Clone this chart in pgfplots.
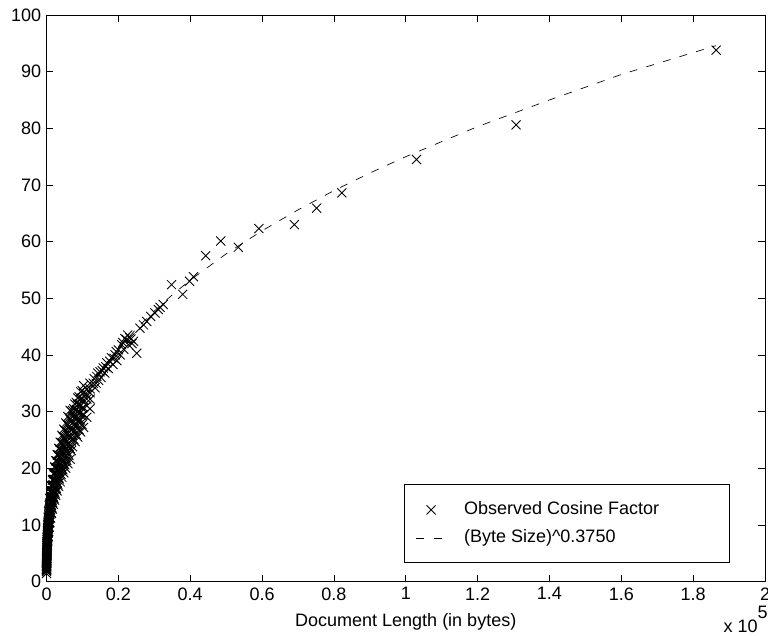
\documentclass[border=0pt]{standalone}
\usepackage{fontspec}
\setmainfont{Liberation Sans}
\usepackage{pgfplots}
\usepackage{pgfplotstable}
\pgfplotsset{compat=1.18}

% observed cosine factor, x in units of 1e5 bytes
\pgfplotstableread{
x y
0.00001 1.4
0.0000635 1.74
0.0000635 1.88
0.0000635 2
0.0000635 2.12
0.0000635 2.24
0.000115 2.1
0.000115 2.25
0.000115 2.4
0.000115 2.6
0.000115 2.7
0.000187 2.6
0.000187 2.8
0.000187 3
0.000187 3.2
0.000187 3.4
0.000282 2.9
0.000282 3.2
0.000282 3.4
0.000282 3.6
0.000282 3.8
0.000403 3.2
0.000403 3.5
0.000403 3.8
0.000403 4
0.000403 4.2
0.000403 4.5
0.000552 3.8
0.000552 4.1
0.000552 4.4
0.000552 4.6
0.000552 4.9
0.00073 4.0
0.00073 4.4
0.00073 4.7
0.00073 5
0.00073 5.3
0.00073 5.6
0.000943 4.6
0.000943 5.0
0.000943 5.3
0.000943 5.7
0.000943 6.0
0.00119 4.8
0.00119 5.2
0.00119 5.6
0.00119 6
0.00119 6.4
0.00119 6.7
0.00147 5.5
0.00147 5.9
0.00147 6.3
0.00147 6.7
0.00147 7.1
0.00179 5.6
0.00179 6.1
0.00179 6.6
0.00179 7
0.00179 7.4
0.00179 7.8
0.00216 6.3
0.00216 6.8
0.00216 7.3
0.00216 7.7
0.00216 8.2
0.00256 6.4
0.00256 7.0
0.00256 7.5
0.00256 8
0.00256 8.5
0.00256 9.0
0.00301 7.1
0.00301 7.7
0.00301 8.2
0.00301 8.8
0.00301 9.3
0.0035 7.2
0.0035 7.8
0.0035 8.5
0.0035 9
0.0035 9.5
0.0035 10.1
0.00405 8.0
0.00405 8.6
0.00405 9.2
0.00405 9.8
0.00405 10.4
0.00464 8.0
0.00464 8.7
0.00464 9.4
0.00464 10
0.00464 10.6
0.00464 11.2
0.00529 8.8
0.00529 9.5
0.00529 10.2
0.00529 10.8
0.00529 11.4
0.0060 8.8
0.0060 9.6
0.0060 10.3
0.0060 11
0.0060 11.7
0.0060 12.3
0.00674 9.7
0.00674 10.4
0.00674 11.2
0.00674 11.8
0.00674 12.5
0.00755 9.6
0.00755 10.4
0.00755 11.3
0.00755 12
0.00755 12.7
0.00755 13.4
0.00843 10.5
0.00843 11.3
0.00843 12.1
0.00843 12.9
0.00843 13.6
0.0093 10.4
0.0093 11.3
0.0093 12.2
0.0093 13
0.0093 13.8
0.0093 14.6
0.01035 11.3
0.01035 12.2
0.01035 13.1
0.01035 13.9
0.01035 14.7
0.0114 11.2
0.0114 12.2
0.0114 13.2
0.0114 14
0.0114 14.8
0.0114 15.7
0.0125 12.2
0.0125 13.1
0.0125 14.1
0.0125 14.9
0.0125 15.8
0.0137 12.0
0.0137 13.1
0.0137 14.1
0.0137 15
0.0137 15.9
0.0137 16.8
0.0150 13.0
0.0150 14.0
0.0150 15.0
0.0150 16.0
0.0150 16.9
0.01625 12.8
0.01625 13.9
0.01625 15.0
0.01625 16
0.01625 17.0
0.01625 17.9
0.0177 13.9
0.0177 14.9
0.0177 16.0
0.0177 17.0
0.0177 18.0
0.0191 13.6
0.0191 14.8
0.0191 16.0
0.0191 17
0.0191 18.0
0.0191 19.0
0.0207 14.7
0.0207 15.8
0.0207 17.0
0.0207 18.0
0.0207 19.1
0.0223 14.4
0.0223 15.7
0.0223 16.9
0.0223 18
0.0223 19.1
0.0223 20.2
0.0240 15.5
0.0240 16.7
0.0240 17.9
0.0240 19.1
0.0240 20.2
0.0257 15.2
0.0257 16.5
0.0257 17.9
0.0257 19
0.0257 20.1
0.0257 21.3
0.0276 16.4
0.0276 17.6
0.0276 18.9
0.0276 20.1
0.0276 21.3
0.0295 16.0
0.0295 17.4
0.0295 18.8
0.0295 20
0.0295 21.2
0.0295 22.4
0.0315 17.2
0.0315 18.5
0.0315 19.9
0.0315 21.1
0.0315 22.3
0.0336 16.8
0.0336 18.3
0.0336 19.7
0.0336 21
0.0336 22.3
0.0336 23.5
0.0358 18.1
0.0358 19.4
0.0358 20.9
0.0358 22.1
0.0358 23.4
0.0380 17.6
0.0380 19.1
0.0380 20.7
0.0380 22
0.0380 23.3
0.0380 24.6
0.0405 18.9
0.0405 20.3
0.0405 21.8
0.0405 23.2
0.0405 24.5
0.0428 18.4
0.0428 20.0
0.0428 21.6
0.0428 23
0.0428 24.4
0.0428 25.8
0.0454 19.7
0.0454 21.2
0.0454 22.8
0.0454 24.2
0.0454 25.6
0.0479 19.2
0.0479 20.9
0.0479 22.6
0.0479 24
0.0479 25.4
0.0479 26.9
0.0508 20.6
0.0508 22.1
0.0508 23.8
0.0508 25.2
0.0508 26.7
0.0535 20.0
0.0535 21.8
0.0535 23.5
0.0535 25
0.0535 26.5
0.0535 28.0
0.0565 21.4
0.0565 23.0
0.0565 24.7
0.0565 26.3
0.0565 27.8
0.0594 20.8
0.0594 22.6
0.0594 24.4
0.0594 26
0.0594 27.6
0.0594 29.1
0.0625 22.3
0.0625 23.9
0.0625 25.7
0.0625 27.3
0.0625 28.9
0.0656 21.6
0.0656 23.5
0.0656 25.4
0.0656 27
0.0656 28.6
0.0656 30.2
0.0690 23.1
0.0690 24.8
0.0690 26.7
0.0690 28.3
0.0690 30.0
0.0723 23.8
0.0723 25.8
0.0723 26.9
0.0723 28
0.0723 29.1
0.0723 30.2
0.0758 25.1
0.0758 26.5
0.0758 27.6
0.0758 29.4
0.0758 30.5
0.0794 24.7
0.0794 26.7
0.0794 27.8
0.0794 29
0.0794 30.2
0.0794 31.3
0.0830 26.0
0.0830 27.4
0.0830 28.6
0.0830 30.4
0.0830 31.6
0.0870 25.5
0.0870 27.6
0.0870 28.8
0.0870 30
0.0870 31.2
0.0870 32.4
0.0909 26.8
0.0909 28.4
0.0909 29.6
0.0909 31.4
0.0909 32.6
0.0949 26.4
0.0949 28.5
0.0949 29.8
0.0949 31
0.0949 32.2
0.0949 33.5
0.0990 27.7
0.0990 29.3
0.0990 30.6
0.0990 32.4
0.0990 33.7
0.1032 27.2
0.1032 29.4
0.1032 30.7
0.1032 32
0.1032 33.3
0.1032 34.6
0.1120 29.0
0.1120 31.0
0.1120 32.2
0.1120 33
0.1120 34.0
0.1212 30.5
0.1212 32.2
0.1212 33.3
0.1212 34
0.1212 35.0
0.130 35.0
0.133 35.8
0.135 34.2
0.138 35.0
0.140 36.2
0.143 36.8
0.145 35.5
0.149 37.0
0.152 36.0
0.155 37.2
0.158 37.7
0.162 36.8
0.165 37.9
0.168 38.6
0.172 37.6
0.176 38.9
0.181 39.5
0.185 38.3
0.188 39.4
0.191 40.0
0.194 40.6
0.196 39.0
0.200 40.9
0.205 40.0
0.209 41.8
0.212 42.2
0.215 41.0
0.218 42.9
0.223 42.7
0.226 43.5
0.228 41.8
0.232 43.0
0.235 42.8
0.238 42.0
0.242 42.4
0.251 40.3
0.260 44.7
0.270 45.3
0.279 45.9
0.290 46.8
0.302 47.4
0.311 48.0
0.316 48.4
0.325 48.9
0.348 52.4
0.379 50.7
0.398 53.0
0.409 53.8
0.443 57.5
0.485 60.1
0.534 59.0
0.591 62.3
0.690 63.0
0.752 65.9
0.822 68.6
1.030 74.5
1.307 80.6
1.864 93.8
}\observed

% fitted curve (Byte Size)^0.375
\pgfplotstableread{
x y
0.00001 1.0
0.0001 2.37
0.0005 4.34
0.001 5.62
0.002 7.29
0.004 9.46
0.007 11.68
0.01 13.34
0.015 15.52
0.02 17.29
0.03 20.13
0.04 22.43
0.05 24.38
0.07 27.67
0.1 31.62
0.13 34.89
0.16 37.72
0.2 41.02
0.25 44.61
0.3 47.74
0.35 50.60
0.4 53.19
0.5 57.84
0.6 61.91
0.7 65.6
0.8 69.0
0.9 72.1
1.0 74.99
1.2 80.3
1.4 85.0
1.6 89.5
1.864 94.6
}\fitted

\begin{document}
\begin{tikzpicture}[font=\fontsize{13.5}{16}\selectfont]
\begin{axis}[
    name=ax,
    scale only axis,
    width=539pt,
    height=425pt,
    xmin=0, xmax=2,
    ymin=0, ymax=100,
    xtick={0,0.2,0.4,0.6,0.8,1,1.2,1.4,1.6,1.8,2},
    xticklabels={0,0.2,0.4,0.6,0.8,1,1.2,1.4,1.6,1.8,2},
    ytick={0,10,20,30,40,50,60,70,80,90,100},
    /pgf/number format/assume math mode=true,
    tick align=inside,
    major tick length=5pt,
    axis line style={line width=0.7pt},
    every tick/.style={black, line width=0.5pt},
    xticklabel style={yshift=-1pt},
    yticklabel style={xshift=-0.5pt},
    xlabel={Document Length (in bytes)},
    xlabel style={yshift=-3pt},
    legend image code/.code={\draw[mark repeat=2,mark phase=2,#1] plot coordinates {(0pt,0pt) (11pt,0pt) (22pt,0pt)};},
    legend style={at={(0.951,0.032)}, anchor=south east, draw=black, line width=0.7pt,
        inner xsep=9pt, inner ysep=12.25pt, row sep=8pt, column sep=13.5pt,
        nodes={inner sep=0pt, text height=10pt, text depth=3pt},
        cells={anchor=west}},
    legend cell align=left,
]
\addplot[only marks, mark=x, mark size=4.8pt, mark options={line width=0.65pt}, black] table {\observed};
\addplot[no marks, black, line width=0.5pt, dash pattern=on 6pt off 7pt] table {\fitted};
\legend{\makebox[190pt][l]{Observed Cosine Factor}, {(Byte Size)\^{}0.3750}}
\end{axis}
\node[anchor=north east, inner sep=0pt] at ([xshift=2.25pt, yshift=-18pt]ax.south east) {x 10\raisebox{11pt}{5}};
\pgfresetboundingbox
\path ([shift={(-34.9pt,-40.5pt)}]ax.south west) rectangle ([shift={(2.25pt,11.25pt)}]ax.north east);
\end{tikzpicture}
\end{document}
